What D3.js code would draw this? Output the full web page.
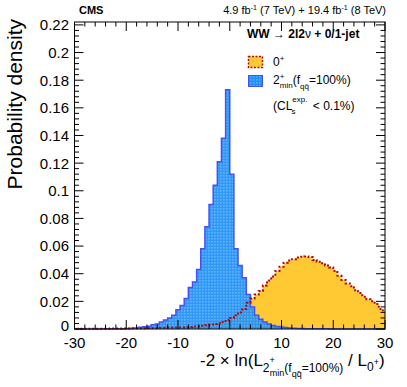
<!DOCTYPE html>
<html>
<head>
<meta charset="utf-8">
<script src="https://cdn.jsdelivr.net/npm/d3@7/dist/d3.min.js"></script>
<style>
body { margin: 0; background: #fff; }
text { font-family: "Liberation Sans", Arial, Helvetica, sans-serif; fill: #000; }
</style>
</head>
<body>
<div id="wrapper"></div>
<script>
// histogram binning: 76 bins of 0.8, first bin starts at -30.4
var binLow = -30.4;
var binWidth = 0.8;

// 2+min (fqq=100%) pseudo-experiments, probability density per bin
var spin2Values = [
  0, 0, 0, 0, 0, 0, 0, 0.0001, 0.0001, 0.0001,
  0.0001, 0.0002, 0.0002, 0.0003, 0.0005, 0.0008, 0.0012, 0.0016, 0.002, 0.003,
  0.0036, 0.005, 0.0065, 0.008, 0.010, 0.014, 0.017, 0.022, 0.030, 0.034,
  0.043, 0.058, 0.074, 0.090, 0.104, 0.121, 0.138, 0.173, 0.112, 0.058,
  0.046, 0.037, 0.025, 0.016, 0.010, 0.007, 0.005, 0.0036, 0.0025, 0.0018,
  0.0014, 0.001, 0.0007, 0.0005, 0.0004, 0.0003, 0.0002, 0.0002, 0.0001, 0.0001,
  0.0001, 0.0001, 0, 0, 0, 0, 0, 0, 0, 0,
  0, 0, 0, 0, 0, 0
];

// 0+ (SM) pseudo-experiments
var spin0Values = [
  0.0001, 0.0001, 0.0001, 0.0001, 0.0001, 0.0002, 0.0002, 0.0002, 0.0002, 0.0003,
  0.0003, 0.0003, 0.0004, 0.0004, 0.0005, 0.0005, 0.0005, 0.0006, 0.0007, 0.0007,
  0.0008, 0.0009, 0.0009, 0.001, 0.001, 0.0011, 0.0011, 0.0013, 0.0015, 0.0018,
  0.002, 0.0024, 0.0027, 0.0032, 0.0037, 0.0041, 0.005, 0.0065, 0.008, 0.010,
  0.012, 0.0145, 0.019, 0.022, 0.025, 0.0275, 0.0315, 0.035, 0.038, 0.042,
  0.045, 0.048, 0.0495, 0.0505, 0.0518, 0.0523, 0.0525, 0.052, 0.050, 0.0487,
  0.0475, 0.046, 0.0445, 0.042, 0.0385, 0.0355, 0.033, 0.031, 0.028, 0.026,
  0.0234, 0.0215, 0.020, 0.018, 0.0145, 0.0125
];

var xTicks = [-30, -20, -10, 0, 10, 20, 30];
var xMinorTicks = d3.range(-30, 30.01, 2);
var yTicks = [0, 0.02, 0.04, 0.06, 0.08, 0.1, 0.12, 0.14, 0.16, 0.18, 0.2, 0.22];
var yTickLabels = ["0", "0.02", "0.04", "0.06", "0.08", "0.1", "0.12", "0.14", "0.16", "0.18", "0.2", "0.22"];
var yMinorTicks = d3.range(0, 0.2221, 0.004);

drawChart('#wrapper');

function drawChart(dom_element_to_append_to) {
  var width = 407,
      height = 387;
  var left = 74.5, right = 385, top = 22, bottom = 329;

  var x = d3.scaleLinear().domain([-30, 30]).range([left, right]);
  var y = d3.scaleLinear().domain([0, 0.2221]).range([bottom, top]);

  var svg = d3.select(dom_element_to_append_to)
    .append("svg")
    .attr("width", width)
    .attr("height", height);

  var defs = svg.append("defs");
  defs.append("clipPath").attr("id", "plotclip")
    .append("rect")
    .attr("x", left).attr("y", top - 2)
    .attr("width", right - left).attr("height", bottom - top + 4);

  var pat = defs.append("pattern").attr("id", "bluegrid")
    .attr("patternUnits", "userSpaceOnUse")
    .attr("width", 3).attr("height", 3);
  pat.append("rect").attr("width", 3).attr("height", 3).attr("fill", "#1f8ff5");
  pat.append("rect").attr("x", 1).attr("y", 1).attr("width", 1.6).attr("height", 1.6).attr("fill", "#52aefc");

  function toPoints(values) {
    var pts = values.map(function(v, i) { return { x: binLow + i * binWidth, v: v }; });
    pts.push({ x: binLow + values.length * binWidth, v: values[values.length - 1] });
    return pts;
  }

  var area = d3.area()
    .curve(d3.curveStepAfter)
    .x(function(d) { return x(d.x); })
    .y0(y(0))
    .y1(function(d) { return y(d.v); });

  var line = d3.line()
    .curve(d3.curveStepAfter)
    .x(function(d) { return x(d.x); })
    .y(function(d) { return y(d.v); });

  var g = svg.append("g").attr("clip-path", "url(#plotclip)");

  var pts0 = toPoints(spin0Values);
  var pts2 = toPoints(spin2Values);

  g.append("path").attr("d", area(pts0)).attr("fill", "#ffc933");
  g.append("path").attr("d", area(pts2)).attr("fill", "url(#bluegrid)").attr("fill-opacity", 0.92);
  g.append("path").attr("d", line(pts2)).attr("fill", "none")
    .attr("stroke", "#4650f5").attr("stroke-width", 1.5);
  g.append("path").attr("d", line(pts0)).attr("fill", "none")
    .attr("stroke", "#b00a0a").attr("stroke-width", 2).attr("stroke-dasharray", "2,2");

  // frame
  svg.append("rect")
    .attr("x", left).attr("y", top)
    .attr("width", right - left).attr("height", bottom - top)
    .attr("fill", "none").attr("stroke", "#000").attr("stroke-width", 1);

  // ticks (inward, ROOT style)
  var tk = svg.append("g").attr("stroke", "#000").attr("stroke-width", 1);
  xMinorTicks.forEach(function(t) {
    var len = Math.abs(t % 10) < 1e-6 ? 9 : 4.5;
    tk.append("line").attr("x1", x(t)).attr("x2", x(t)).attr("y1", bottom).attr("y2", bottom - len);
    tk.append("line").attr("x1", x(t)).attr("x2", x(t)).attr("y1", top).attr("y2", top + len);
  });
  yMinorTicks.forEach(function(t, i) {
    var len = i % 5 === 0 ? 9 : 4.5;
    tk.append("line").attr("x1", left).attr("x2", left + len).attr("y1", y(t)).attr("y2", y(t));
    tk.append("line").attr("x1", right).attr("x2", right - len).attr("y1", y(t)).attr("y2", y(t));
  });

  // tick labels
  svg.append("g").selectAll("text").data(xTicks).enter().append("text")
    .attr("x", function(d) { return x(d); })
    .attr("y", 347.5)
    .attr("text-anchor", "middle")
    .attr("font-size", 15)
    .text(function(d) { return d; });

  svg.append("g").selectAll("text").data(yTicks).enter().append("text")
    .attr("x", 69)
    .attr("y", function(d) { return d === 0 ? y(d) - 3.5 : y(d); })
    .attr("dy", "0.36em")
    .attr("text-anchor", "end")
    .attr("font-size", 15)
    .text(function(d, i) { return yTickLabels[i]; });

  // axis titles
  svg.append("text")
    .attr("transform", "translate(22,19) rotate(-90)")
    .attr("text-anchor", "end")
    .attr("font-size", 21)
    .text("Probability density");

  var xt = svg.append("text").attr("x", 200).attr("y", 366).attr("font-size", 17);
  xt.append("tspan").text("-2 \u00d7 ln(L");
  xt.append("tspan").attr("font-size", 12).attr("dy", 6).text("2");
  xt.append("tspan").attr("font-size", 9).attr("dy", -9).text("+");
  xt.append("tspan").attr("font-size", 9).attr("dx", -5).attr("dy", 13).text("min");
  xt.append("tspan").attr("font-size", 12).attr("dy", -4).text("(f");
  xt.append("tspan").attr("font-size", 9).attr("dy", 5).text("q\u0071\u0304");
  xt.append("tspan").attr("font-size", 12).attr("dy", -5).text("=100%)");
  xt.append("tspan").attr("font-size", 17).attr("dy", -6).text(" / L");
  xt.append("tspan").attr("font-size", 12).attr("dy", 5).text("0");
  xt.append("tspan").attr("font-size", 9).attr("dy", -6).text("+");
  xt.append("tspan").attr("font-size", 17).attr("dy", 1).text(")");

  // header
  svg.append("text").attr("x", 79).attr("y", 14).attr("font-size", 11).attr("font-weight", "bold").text("CMS");
  var lumi = svg.append("text").attr("x", 386).attr("y", 14).attr("font-size", 11).attr("text-anchor", "end");
  lumi.append("tspan").text("4.9 fb");
  lumi.append("tspan").attr("font-size", 7).attr("dy", -4).text("-1");
  lumi.append("tspan").attr("dy", 4).text(" (7 TeV) + 19.4 fb");
  lumi.append("tspan").attr("font-size", 7).attr("dy", -4).text("-1");
  lumi.append("tspan").attr("dy", 4).text(" (8 TeV)");

  // legend
  var ch = svg.append("text").attr("x", 247).attr("y", 38).attr("font-size", 12).attr("font-weight", "bold");
  ch.append("tspan").text("WW ");
  ch.append("tspan").attr("font-weight", "normal").text("\u2192");
  ch.append("tspan").text(" 2l2");
  ch.append("tspan").attr("font-weight", "normal").text("\u03bd");
  ch.append("tspan").text(" + 0/1-jet");

  svg.append("rect").attr("x", 248.5).attr("y", 56.5).attr("width", 14).attr("height", 11)
    .attr("fill", "#ffc933").attr("stroke", "#b00a0a").attr("stroke-width", 1.5).attr("stroke-dasharray", "2,1.5");
  svg.append("rect").attr("x", 248.5).attr("y", 75.5).attr("width", 14).attr("height", 11)
    .attr("fill", "url(#bluegrid)").attr("stroke", "#4650f5").attr("stroke-width", 1);

  var l0 = svg.append("text").attr("x", 273).attr("y", 66).attr("font-size", 12);
  l0.append("tspan").text("0");
  l0.append("tspan").attr("font-size", 8).attr("dy", -5).text("+");

  var l2 = svg.append("text").attr("x", 273).attr("y", 84).attr("font-size", 12);
  l2.append("tspan").text("2");
  l2.append("tspan").attr("font-size", 8).attr("dy", -5).text("+");
  l2.append("tspan").attr("font-size", 8).attr("dx", -4.5).attr("dy", 9).text("min");
  l2.append("tspan").attr("font-size", 12).attr("dy", -4).text("(f");
  l2.append("tspan").attr("font-size", 8).attr("dy", 5).text("q\u0071\u0304");
  l2.append("tspan").attr("font-size", 12).attr("dy", -5).text("=100%)");

  var cl = svg.append("text").attr("x", 273).attr("y", 110).attr("font-size", 12);
  cl.append("tspan").text("(CL");
  cl.append("tspan").attr("font-size", 8).attr("dy", -8).text("exp.");
  cl.append("tspan").attr("font-size", 8).attr("dx", -16).attr("dy", 12).text("s");
  cl.append("tspan").attr("font-size", 12).attr("dx", 14).attr("dy", -4).text(" < 0.1%)");
}
</script>
</body>
</html>
